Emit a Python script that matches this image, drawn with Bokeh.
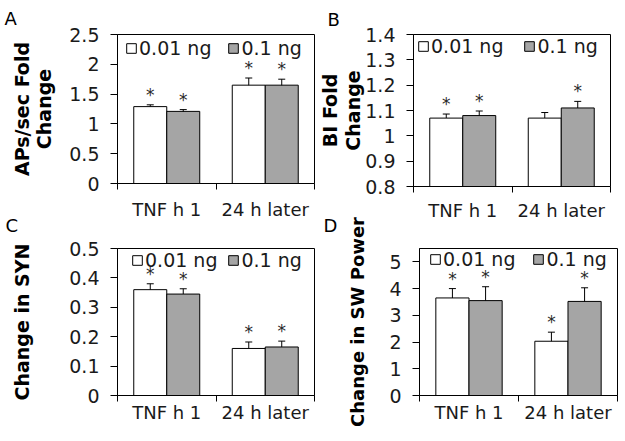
from bokeh.plotting import figure
from bokeh.models import (Range1d, FixedTicker, CustomJSTickFormatter, Whisker, TeeHead,
                          ColumnDataSource, Legend, LegendItem, Title)
from bokeh.layouts import column, row
from bokeh.embed import file_html
from bokeh.resources import INLINE
from bokeh.core.properties import value

# ---------------- data ----------------
categories = ["TNF h 1", "24 h later"]
series_names = ["0.01 ng", "0.1 ng"]

a_low = [1.29, 1.65]
a_high = [1.21, 1.65]
a_low_err = [0.03, 0.12]
a_high_err = [0.03, 0.10]
a_low_sig = [True, True]
a_high_sig = [True, True]
a_yticks = [0, 0.5, 1, 1.5, 2, 2.5]

b_low = [1.07, 1.07]
b_high = [1.08, 1.11]
b_low_err = [0.016, 0.022]
b_high_err = [0.018, 0.026]
b_low_sig = [True, False]
b_high_sig = [True, True]
b_yticks = [0.8, 0.9, 1, 1.1, 1.2, 1.3, 1.4]

c_low = [0.36, 0.16]
c_high = [0.345, 0.165]
c_low_err = [0.02, 0.022]
c_high_err = [0.018, 0.02]
c_low_sig = [True, True]
c_high_sig = [True, True]
c_yticks = [0, 0.1, 0.2, 0.3, 0.4, 0.5]

d_low = [3.65, 2.03]
d_high = [3.55, 3.52]
d_low_err = [0.35, 0.34]
d_high_err = [0.52, 0.51]
d_low_sig = [True, True]
d_high_sig = [True, True]
d_yticks = [0, 1, 2, 3, 4, 5]

FONT = "DejaVu Sans"
TXT = "#1a1a1a"
COLORS = ["white", "#a5a5a5"]
LEG_H = 21


def make_panel(letter, ylabel, vals, errs, sigs, yticks, ymax,
               geo, label_font_size, label_standoff, label_line_height, xlab_standoff,
               leg_x, leg_top, leg_spacing, letter_dx, letter_standoff,
               transparent=False):
    left, fw, right, top, fh, bottom = geo
    ymin = yticks[0]
    p = figure(frame_width=fw, frame_height=fh,
               min_border_left=left, min_border_right=right,
               min_border_top=top, min_border_bottom=bottom,
               x_range=Range1d(0, 2), y_range=Range1d(ymin, ymax),
               output_backend="svg", toolbar_location=None,
               background_fill_color="white", border_fill_color="white")
    if transparent:
        p.border_fill_alpha = 0
    p.xgrid.visible = False
    p.ygrid.visible = False
    p.outline_line_color = "black"
    p.outline_line_width = 1

    renderers = []
    offsets = [-0.1675, 0.1675]
    for s in range(2):
        xs = [i + 0.5 + offsets[s] for i in range(len(categories))]
        src = ColumnDataSource(dict(
            x=xs, top=vals[s], bottom=[ymin] * len(xs),
            upper=[v + e for v, e in zip(vals[s], errs[s])],
            lower=[v - e for v, e in zip(vals[s], errs[s])]))
        r = p.vbar(x="x", top="top", bottom="bottom", width=0.335, source=src,
                   fill_color=COLORS[s], line_color="black", line_width=1)
        renderers.append(r)
        w = Whisker(base="x", upper="upper", lower="lower", source=src,
                    dimension="height", line_color="black", line_width=1,
                    upper_head=TeeHead(size=7, line_color="black", line_width=1),
                    lower_head=TeeHead(size=7, line_color="black", line_width=1))
        p.add_layout(w)
        sx = [x for x, g in zip(xs, sigs[s]) if g]
        sy = [u for u, g in zip(src.data["upper"], sigs[s]) if g]
        p.text(x=sx, y=sy, text=["*"] * len(sx), text_align="center",
               text_baseline="alphabetic", y_offset=-10,
               text_font=value(FONT), text_font_size="17px", text_color="#2a2a2a")

    legend = Legend(items=[LegendItem(label=series_names[s], renderers=[renderers[s]])
                           for s in range(2)],
                    orientation="horizontal", location=(leg_x, fh - leg_top - LEG_H),
                    margin=0, padding=0, spacing=leg_spacing,
                    glyph_width=12, glyph_height=12, label_standoff=2,
                    label_height=LEG_H,
                    label_text_font=FONT, label_text_font_size="19px",
                    label_text_color=TXT, border_line_color=None,
                    background_fill_alpha=0)
    p.add_layout(legend)

    # y axis
    yax = p.yaxis[0]
    yax.ticker = FixedTicker(ticks=yticks, minor_ticks=[])
    yax.formatter = CustomJSTickFormatter(code="return String(Math.round(tick*100)/100)")
    yax.major_tick_out = 7
    yax.major_tick_in = 0
    yax.major_tick_line_color = "black"
    yax.axis_line_color = "black"
    yax.major_label_standoff = 11
    yax.major_label_text_font = FONT
    yax.major_label_text_font_size = "19px"
    yax.major_label_text_color = TXT
    yax.axis_label = ylabel
    yax.axis_label_text_font = FONT
    yax.axis_label_text_font_style = "bold"
    yax.axis_label_text_font_size = label_font_size
    yax.axis_label_text_line_height = label_line_height
    yax.axis_label_text_color = "black"
    yax.axis_label_standoff = label_standoff

    # x axis
    xax = p.xaxis[0]
    xax.ticker = FixedTicker(ticks=[0.5, 1.5], minor_ticks=[0, 1, 2])
    xax.formatter = CustomJSTickFormatter(args=dict(labels=categories),
                                          code="return labels[Math.floor(tick)]")
    xax.major_tick_out = 0
    xax.major_tick_in = 0
    xax.major_tick_line_color = None
    xax.minor_tick_out = 6
    xax.minor_tick_in = 0
    xax.minor_tick_line_color = "black"
    xax.axis_line_color = "black"
    xax.major_label_standoff = xlab_standoff
    xax.major_label_text_font = FONT
    xax.major_label_text_font_size = "18px"
    xax.major_label_text_color = TXT

    p.add_layout(Title(text=letter, align="left", offset=letter_dx,
                       standoff=letter_standoff, text_font=FONT,
                       text_font_size="18px", text_font_style="normal",
                       text_color="black"), "above")
    return p


pA = make_panel("A", "APs/sec Fold\nChange", [a_low, a_high], [a_low_err, a_high_err],
                [a_low_sig, a_high_sig], a_yticks, 2.5,
                (117, 197, 2, 34, 149, 39), "19px", 11, 1.0, 9,
                8, 4, 16, -113, 11)
pB = make_panel("B", "BI Fold\nChange", [b_low, b_high], [b_low_err, b_high_err],
                [b_low_sig, b_high_sig], b_yticks, 1.4,
                (97, 197, 12, 32, 152, 38), "19px", -2, 1.05, 7,
                4, 2, 20, -86, 9)
pC = make_panel("C", "Change in SYN", [c_low, c_high], [c_low_err, c_high_err],
                [c_low_sig, c_high_sig], c_yticks, 0.5,
                (117, 197, 4, 48, 147, 32), "19px", 33, 1.2, 0,
                14, 2, 10, -112, 25, transparent=True)
pD = make_panel("D", "Change in SW Power", [d_low, d_high], [d_low_err, d_high_err],
                [d_low_sig, d_high_sig], d_yticks, 5.5,
                (101, 198, 5, 48, 147, 32), "18px", 18, 1.2, 0,
                10, 1, 17, -96, 25, transparent=True)

row2 = row(pC, pD)
row2.margin = (-22, 0, 0, 0)
layout = column(row(pA, pB), row2)
open("out.html", "w").write(file_html(layout, INLINE))
